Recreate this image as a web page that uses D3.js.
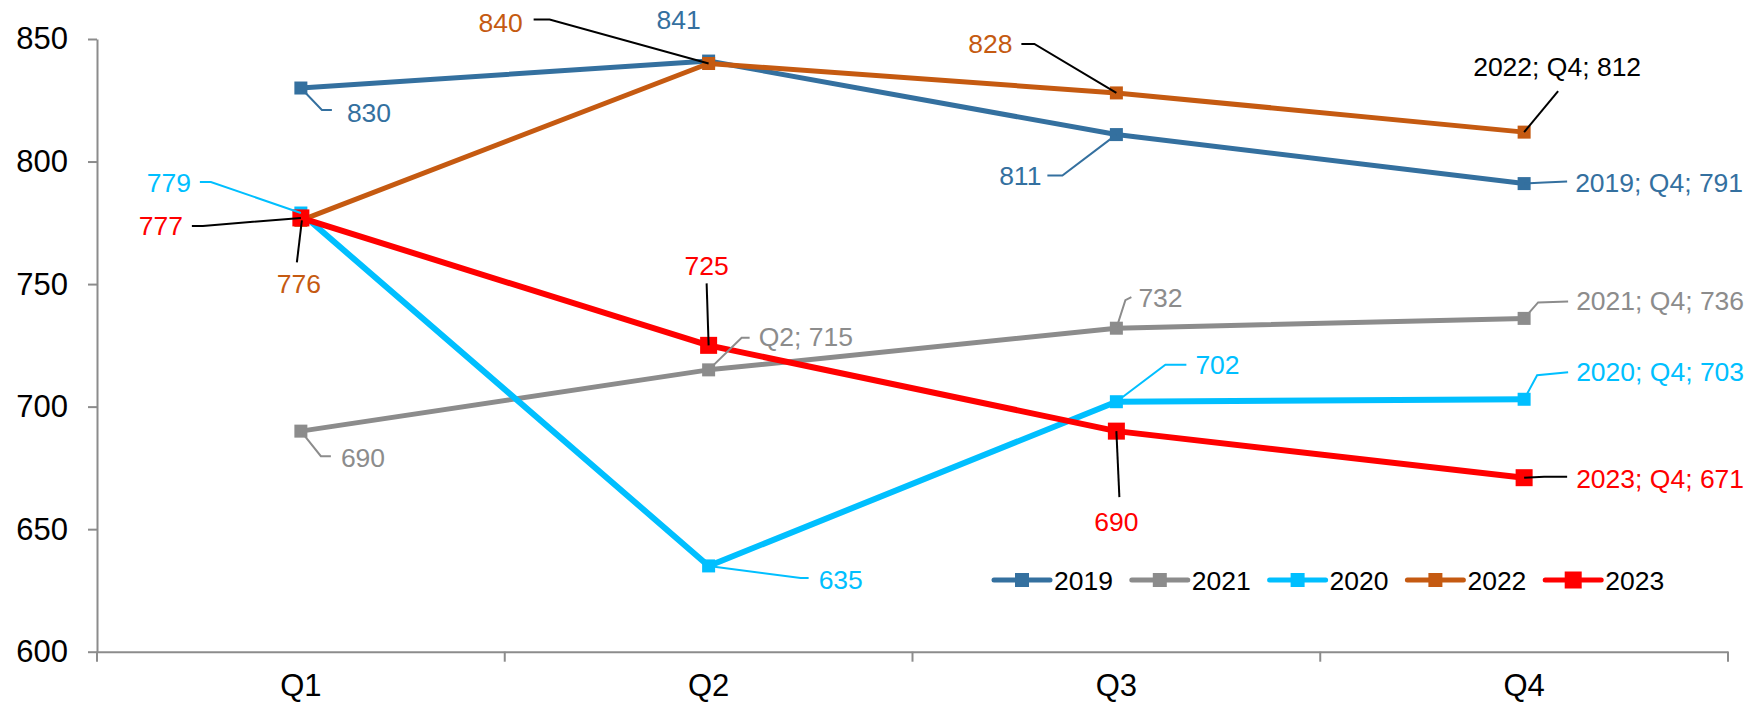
<!DOCTYPE html>
<html lang="en">
<head>
<meta charset="UTF-8">
<title>Quarterly values 2019-2023</title>
<style>
  body { margin: 0; background: #fff; }
  svg { display: block; font-family: "Liberation Sans", Arial, sans-serif; }
</style>
<script src="https://d3js.org/d3.v7.min.js"></script>
</head>
<body>
<svg id="chart" width="1747" height="707"></svg>
<script>
// ---- data ----
const quarters = ["Q1", "Q2", "Q3", "Q4"];
const years = ["2019", "2021", "2020", "2022", "2023"];
const values2019 = [830, 841, 811, 791];
const values2021 = [690, 715, 732, 736];
const values2020 = [779, 635, 702, 703];
const values2022 = [776, 840, 828, 812];
const values2023 = [777, 725, 690, 671];
const yTicks = [600, 650, 700, 750, 800, 850];
// label text: v = value, qv = "Q; value", yqv = "year; Q; value"
const labelFormats = {
  "2019": ["v", "v", "v", "yqv"],
  "2021": ["v", "qv", "v", "yqv"],
  "2020": ["v", "v", "v", "yqv"],
  "2022": ["v", "v", "v", "yqv"],
  "2023": ["v", "v", "v", "yqv"]
};

// ---- styling / layout ----
const colors = { "2019": "#34709f", "2021": "#8c8c8c", "2020": "#00bfff", "2022": "#c55a11", "2023": "#ff0000" };
const lineWidth = { "2019": 5, "2021": 5, "2020": 6, "2022": 5, "2023": 6 };
const markerSize = { "2019": 13, "2021": 13, "2020": 13, "2022": 13, "2023": 17 };

// label offsets relative to the point: [dx, dy, anchor, leader points, leader colour, text colour]
const labelLayout = {
  "2019": [
    [46, 24, "start", [[0, 0], [21, 22], [31, 22]]],
    [-30, -42, "middle", null],
    [-75, 41, "end", [[-69, 41], [-54, 41], [0, 0]]],
    [51, -1, "start", [[0, 0], [20, -1], [43, -2]]]
  ],
  "2021": [
    [40, 26, "start", [[0, 0], [20, 25], [30, 25]]],
    [50, -33, "start", [[0, 0], [33, -32], [41, -32]]],
    [22, -31, "start", [[0, 0], [9, -28], [15, -31]]],
    [52, -18, "start", [[0, 0], [14, -16], [44, -17]]]
  ],
  "2020": [
    [-110, -31, "end", [[-101, -31], [-90, -31], [0, 0]]],
    [110, 14, "start", [[0, 0], [92, 12], [100, 12]]],
    [79, -37, "start", [[0, 0], [49, -37], [70, -37]]],
    [52, -28, "start", [[0, 0], [13, -24], [44, -27]]]
  ],
  "2022": [
    [-2, 63, "middle", [[1, 0], [-4, 42]], "#000"],
    [-186, -41, "end", [[-175, -44], [-159, -44], [0, 0]], "#000"],
    [-104, -49, "end", [[-95, -49], [-82, -49], [0, 0]], "#000"],
    [33, -66, "middle", [[34, -41], [0, 0]], "#000", "#000"]
  ],
  "2023": [
    [-118, 8, "end", [[-109, 8], [-98, 8], [0, 0]], "#000"],
    [-2, -80, "middle", [[-2, -62], [0, 0]], "#000"],
    [0, 90, "middle", [[0, 0], [3, 66]], "#000"],
    [52, 1, "start", [[0, 0], [20, -1], [43, -1]], "#000"]
  ]
};

const seriesValues = { "2019": values2019, "2021": values2021, "2020": values2020, "2022": values2022, "2023": values2023 };

const margin = { left: 97, right: 19, top: 39, bottom: 55 };
const width = 1747, height = 707;

const svg = d3.select("#chart");

const x = d3.scaleBand().domain(quarters).range([margin.left, width - margin.right]).padding(0);
const y = d3.scaleLinear().domain([600, 850]).range([height - margin.bottom - 0.3, margin.top]);
const cx = q => x(q) + x.bandwidth() / 2;

// ---- axes ----
const yAxis = svg.append("g")
  .attr("transform", `translate(${margin.left},0)`)
  .call(d3.axisLeft(y).tickValues(yTicks).tickSize(9).tickSizeOuter(0).tickPadding(20));
yAxis.select(".domain").attr("stroke", "#8c8c8c").attr("stroke-width", 2);
yAxis.selectAll(".tick line").attr("stroke", "#8c8c8c").attr("stroke-width", 2);
yAxis.selectAll(".tick text").attr("font-size", 31).attr("fill", "#000")
  .attr("font-family", "Liberation Sans, Arial, sans-serif");

const xAxis = svg.append("g")
  .attr("transform", `translate(0,${y(600)})`)
  .call(d3.axisBottom(x).tickSize(0).tickSizeOuter(0).tickPadding(22));
xAxis.select(".domain").attr("stroke", "#8c8c8c").attr("stroke-width", 2);
xAxis.selectAll(".tick text").attr("font-size", 31).attr("fill", "#000")
  .attr("font-family", "Liberation Sans, Arial, sans-serif");
// category boundary ticks
const boundaries = quarters.map(q => x(q)).concat([x(quarters[quarters.length - 1]) + x.bandwidth()]);
xAxis.selectAll("line.bound")
  .data(boundaries)
  .enter().append("line")
  .attr("class", "bound")
  .attr("x1", d => d).attr("x2", d => d)
  .attr("y1", 0).attr("y2", 10)
  .attr("stroke", "#8c8c8c").attr("stroke-width", 2);

// ---- series ----
const line = d3.line().x((d, i) => cx(quarters[i])).y(d => y(d));

years.forEach(yr => {
  const vals = seriesValues[yr];
  svg.append("path")
    .datum(vals)
    .attr("fill", "none")
    .attr("stroke", colors[yr])
    .attr("stroke-width", lineWidth[yr])
    .attr("stroke-linejoin", "round")
    .attr("d", line);
  const s = markerSize[yr];
  svg.selectAll(null)
    .data(vals)
    .enter().append("rect")
    .attr("x", (d, i) => cx(quarters[i]) - s / 2)
    .attr("y", d => y(d) - s / 2)
    .attr("width", s)
    .attr("height", s)
    .attr("fill", colors[yr]);
});

// ---- data labels ----
years.forEach(yr => {
  const vals = seriesValues[yr];
  vals.forEach((v, i) => {
    const px = cx(quarters[i]), py = y(v);
    const [dx, dy, anchor, leader, leaderColor, textColor] = labelLayout[yr][i];
    if (leader) {
      svg.append("path")
        .attr("d", d3.line()(leader.map(p => [px + p[0], py + p[1]])))
        .attr("fill", "none")
        .attr("stroke", leaderColor || colors[yr])
        .attr("stroke-width", 2);
    }
    const fmt = labelFormats[yr][i];
    const txt = fmt === "yqv" ? `${yr}; ${quarters[i]}; ${v}` : fmt === "qv" ? `${quarters[i]}; ${v}` : `${v}`;
    svg.append("text")
      .attr("x", px + dx)
      .attr("y", py + dy)
      .attr("dy", "0.36em")
      .attr("text-anchor", anchor)
      .attr("font-size", 26.5)
      .attr("fill", textColor || colors[yr])
      .text(txt);
  });
});

// ---- legend ----
const legendStart = 994, legendStep = 137.8, legendY = 580;
const legend = svg.append("g");
years.forEach((yr, i) => {
  const lx = legendStart + i * legendStep;
  const g = legend.append("g").attr("transform", `translate(${lx},${legendY})`);
  g.append("line")
    .attr("x1", 0).attr("x2", 56).attr("y1", 0).attr("y2", 0)
    .attr("stroke", colors[yr]).attr("stroke-width", 5).attr("stroke-linecap", "round");
  const s = yr === "2023" ? 17 : 14;
  g.append("rect")
    .attr("x", 28 - s / 2).attr("y", -s / 2).attr("width", s).attr("height", s)
    .attr("fill", colors[yr]);
  g.append("text")
    .attr("x", 60).attr("y", 0).attr("dy", "0.36em")
    .attr("font-size", 26.5).attr("fill", "#000")
    .text(yr);
});
</script>
</body>
</html>
